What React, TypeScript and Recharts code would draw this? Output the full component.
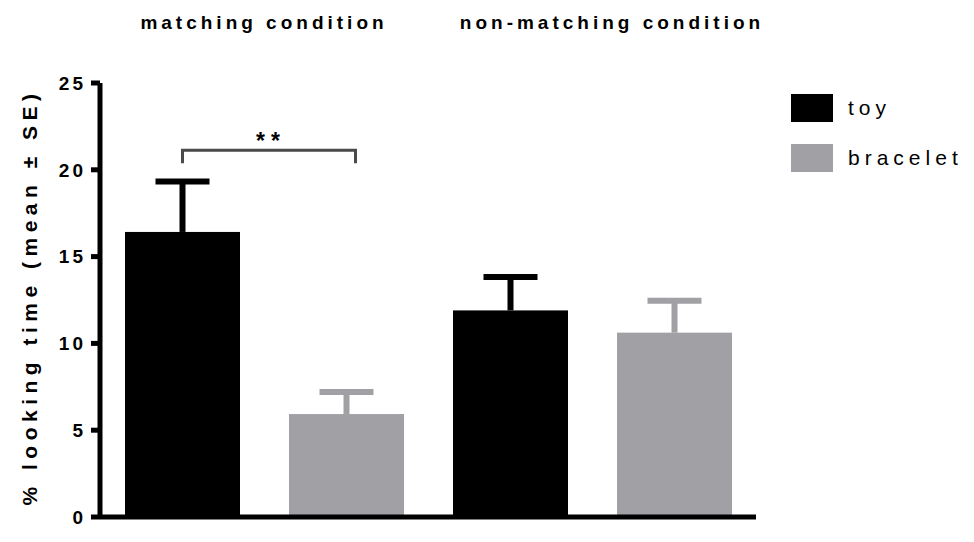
import React from "react";
import { BarChart, Bar, XAxis, YAxis, Legend } from "recharts";

// values
const conditions = ["matching condition", "non-matching condition"];
const toyMeans = [16.42, 11.9];
const toySe = [2.9, 1.92];
const braceletMeans = [5.93, 10.62];
const braceletSe = [1.27, 1.83];
const yTicks = [0, 5, 10, 15, 20, 25];
const seriesOrder = ["toy", "bracelet"];

// significance bracket (in y units) over the matching condition
const sigLabel = "**";
const sigBracketY = 21.12;
const sigBracketEnd = 20.38;

const FONT = "'Liberation Sans', Arial, Helvetica, sans-serif";
const TOY_COLOR = "#000000";
const BRACELET_COLOR = "#a1a1a5";
const BAR_SIZE = 115;
const BAR_GAP = 49;
const TITLE_DX = [0, 20];

const data = conditions.map((c, i) => ({
  condition: c,
  toy: toyMeans[i],
  toySe: toySe[i],
  bracelet: braceletMeans[i],
  braceletSe: braceletSe[i],
  sig: i === 0 ? sigLabel : null,
}));

const makeShape = (key: string, seKey: string, withBracket: boolean) => (props: any) => {
  const { x, y, width, height, fill, payload } = props;
  const value = payload[key];
  const se = payload[seKey];
  const unit = value ? height / value : 0;
  const base = y + height;
  const cx = x + width / 2;
  const errTop = y - se * unit;
  let bracket = null;
  if (withBracket && payload.sig) {
    const by = base - sigBracketY * unit;
    const be = base - sigBracketEnd * unit;
    const x2 = cx + BAR_SIZE + BAR_GAP + 9;
    bracket = (
      <g>
        <path
          d={`M${cx},${be} L${cx},${by} L${x2},${by} L${x2},${be}`}
          fill="none"
          stroke="#4a4a4a"
          strokeWidth={3}
        />
        <text
          x={(cx + x2) / 2 + 2}
          y={by - 1}
          textAnchor="middle"
          fontFamily={FONT}
          fontWeight="bold"
          fontSize={23}
          letterSpacing={6}
          fill="#000"
        >
          {payload.sig}
        </text>
      </g>
    );
  }
  return (
    <g>
      <rect x={x} y={y} width={width} height={height} fill={fill} />
      <line x1={cx} x2={cx} y1={y} y2={errTop} stroke={fill} strokeWidth={6} />
      <line x1={cx - 27} x2={cx + 27} y1={errTop} y2={errTop} stroke={fill} strokeWidth={6} />
      {bracket}
    </g>
  );
};

const toyShape = makeShape("toy", "toySe", true);
const braceletShape = makeShape("bracelet", "braceletSe", false);

const TitleTick = (props: any) => {
  const { x, payload, index } = props;
  return (
    <text
      x={x + (TITLE_DX[index] || 0)}
      y={21}
      textAnchor="middle"
      fontFamily={FONT}
      fontWeight="bold"
      fontSize={19}
      letterSpacing={4}
      fill="#000"
    >
      {payload.value}
    </text>
  );
};

const renderYTitle = (props: any) => {
  const vb = props.viewBox || { x: 0, y: 75, width: 92, height: 434 };
  const cx = vb.x + 29;
  const cy = vb.y + vb.height / 2 - 3;
  return (
    <text
      x={cx}
      y={cy}
      transform={`rotate(-90, ${cx}, ${cy})`}
      textAnchor="middle"
      fontFamily={FONT}
      fontWeight="bold"
      fontSize={21}
      letterSpacing={5.5}
      fill="#000"
    >
      % looking time (mean ± SE)
    </text>
  );
};

const renderLegend = (props: any) => {
  const items = [...(props.payload || [])].sort(
    (a: any, b: any) => seriesOrder.indexOf(a.value) - seriesOrder.indexOf(b.value)
  );
  return (
    <div>
      {items.map((entry: any) => (
        <div
          key={entry.value}
          style={{ display: "flex", alignItems: "center", height: 28, marginBottom: 22 }}
        >
          <div style={{ width: 42, height: 28, background: entry.color }} />
          <span
            style={{
              marginLeft: 15,
              fontFamily: FONT,
              fontSize: 21,
              letterSpacing: 5,
              color: "#000",
            }}
          >
            {entry.value}
          </span>
        </div>
      ))}
    </div>
  );
};

const App = () => {
  return (
    <BarChart
      width={966}
      height={534}
      data={data}
      barGap={BAR_GAP}
      margin={{ top: 0, right: 218, left: 0, bottom: 0 }}
    >
      <XAxis
        xAxisId="top"
        orientation="top"
        dataKey="condition"
        axisLine={false}
        tickLine={false}
        height={75}
        interval={0}
        tick={<TitleTick />}
      />
      <XAxis
        dataKey="condition"
        tick={false}
        tickLine={false}
        axisLine={{ stroke: "#000", strokeWidth: 5 }}
        height={25}
      />
      <YAxis
        domain={[0, 25]}
        ticks={yTicks}
        width={92}
        axisLine={{ stroke: "#000", strokeWidth: 5 }}
        tickLine={{ stroke: "#000", strokeWidth: 5 }}
        tickSize={9}
        tickMargin={5}
        tick={{ fill: "#000", fontSize: 19, fontWeight: "bold", fontFamily: FONT, letterSpacing: 3 }}
        label={renderYTitle}
      />
      <Legend
        layout="vertical"
        align="center"
        verticalAlign="middle"
        wrapperStyle={{ position: "absolute", left: 783, top: 86, width: 180 }}
        content={renderLegend}
      />
      <Bar
        dataKey="toy"
        name="toy"
        fill={TOY_COLOR}
        barSize={BAR_SIZE}
        shape={toyShape}
        isAnimationActive={false}
      />
      <Bar
        dataKey="bracelet"
        name="bracelet"
        fill={BRACELET_COLOR}
        barSize={BAR_SIZE}
        shape={braceletShape}
        isAnimationActive={false}
      />
    </BarChart>
  );
};

export default App;
